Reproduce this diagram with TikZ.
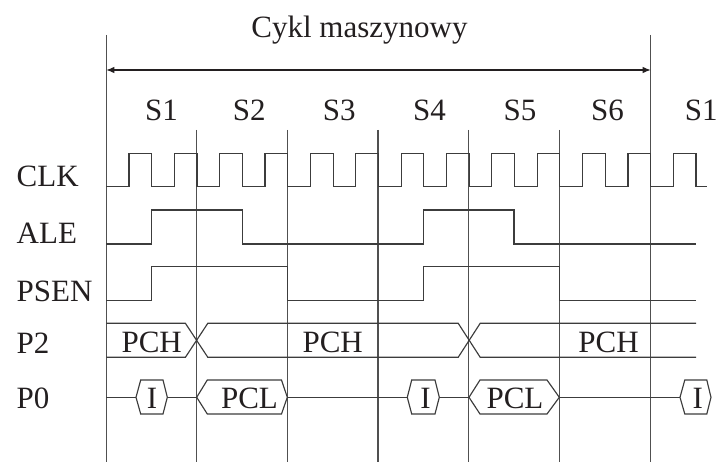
\documentclass[tikz,border=0pt]{standalone}
\usepackage{fontspec}
\setmainfont{Liberation Serif}
\usetikzlibrary{arrows.meta}
\definecolor{ink}{HTML}{231F20}
\definecolor{wire}{HTML}{3C3C3C}
\tikzset{
  lbl/.style={anchor=base, inner sep=0pt, text=ink, font=\fontsize{31}{31}\selectfont},
  rowlbl/.style={lbl, anchor=base west},
  grid/.style={draw=wire!90, line width=1.2pt},
  sig/.style={draw=wire, line width=1.15pt, line join=miter},
  span/.style={draw=ink, line width=1.1pt, {Latex[length=8pt,width=6.5pt]}-{Latex[length=8pt,width=6.5pt]}}
}
\begin{document}
\begin{tikzpicture}[x=1pt,y=-1pt]
\useasboundingbox (0,0) rectangle (724,462);

% machine-cycle bounds and state boundaries
\draw[grid] (106.3,35) -- (106.3,462);
\draw[grid] (650.7,35) -- (650.7,462);
\foreach \x in {196.7,287.3,378,468.7,559.3}
  \draw[grid] (\x,130) -- (\x,462);

% machine-cycle span
\coordinate (cl) at (106.3,70);
\coordinate (cr) at (650.7,70);
\draw[span] (cl) -- (cr);
\node[lbl] (title) at (359.5,37.3) {Cykl maszynowy};

% state names
\node[lbl] (s1)  at (161.5,120.7) {S1};
\node[lbl] (s2)  at (249.3,120.7) {S2};
\node[lbl] (s3)  at (339.3,120.7) {S3};
\node[lbl] (s4)  at (429.6,120.7) {S4};
\node[lbl] (s5)  at (520.1,120.7) {S5};
\node[lbl] (s6)  at (607.6,120.7) {S6};
\node[lbl] (s1b) at (701.3,120.7) {S1};

% signal names
\node[rowlbl] (clk)  at (16.5,186.7) {CLK};
\node[rowlbl] (ale)  at (16.5,243.3) {ALE};
\node[rowlbl] (psen) at (16.5,301.7) {PSEN};
\node[rowlbl] (p2)   at (16.5,353.3) {P2};
\node[rowlbl] (p0)   at (16.5,408.3) {P0};

% CLK: two periods per state
\draw[sig] (106.3,186.7)
  \foreach \n in {0,2,...,24} { -- ++(22.68,0) -- ++(0,-33.4) -- ++(22.68,0) -- ++(0,33.4) }
  -- ++(11,0);

% ALE
\draw[sig] (106.3,244) -- (151.3,244) -- (151.3,210) -- (242.7,210) -- (242.7,244)
  -- (423.3,244) -- (423.3,210) -- (514,210) -- (514,244) -- (696,244);

% PSEN
\draw[sig] (106.3,300.7) -- (151.3,300.7) -- (151.3,266.7) -- (287.3,266.7) -- (287.3,300.7)
  -- (423.3,300.7) -- (423.3,266.7) -- (559.3,266.7) -- (559.3,300.7) -- (696,300.7);

% P2 bus
\draw[sig] (106.3,323.3) -- (185.4,323.3) -- (207.8,357.3) -- (458.2,357.3) -- (480.2,323.3) -- (696,323.3);
\draw[sig] (106.3,357.3) -- (185.4,357.3) -- (207.8,323.3) -- (458.2,323.3) -- (480.2,357.3) -- (696,357.3);
\node[lbl] (pch1) at (151.7,352.3) {PCH};
\node[lbl] (pch2) at (332.7,352.3) {PCH};
\node[lbl] (pch3) at (608.5,352.3) {PCH};

% P0 bus
\draw[sig] (106.3,397.3) -- (136,397.3);
\draw[sig] (136,397.3) -- (140.7,380) -- (163,380) -- (167.3,397.3) -- (163,414) -- (140.7,414) -- cycle;
\draw[sig] (167.3,397.3) -- (196.7,397.3);
\draw[sig] (196.7,397.3) -- (207.3,380) -- (281.5,380) -- (287.3,397.3) -- (281.5,414) -- (207.3,414) -- cycle;
\draw[sig] (287.3,397.3) -- (407.3,397.3);
\draw[sig] (407.3,397.3) -- (411.7,380) -- (435,380) -- (439.3,397.3) -- (435,414) -- (411.7,414) -- cycle;
\draw[sig] (439.3,397.3) -- (469,397.3);
\draw[sig] (469,397.3) -- (480,380) -- (547,380) -- (559.3,397.3) -- (547,414) -- (480,414) -- cycle;
\draw[sig] (559.3,397.3) -- (680,397.3);
\draw[sig] (680,397.3) -- (684.8,380) -- (706.8,380) -- (711,397.3) -- (706.8,414) -- (684.8,414) -- cycle;

\node[lbl] (i1)   at (152,409)   {I};
\node[lbl] (pcl1) at (249.5,409) {PCL};
\node[lbl] (i2)   at (425.5,409) {I};
\node[lbl] (pcl2) at (515,409)   {PCL};
\node[lbl] (i3)   at (697.8,409) {I};
\end{tikzpicture}
\end{document}
